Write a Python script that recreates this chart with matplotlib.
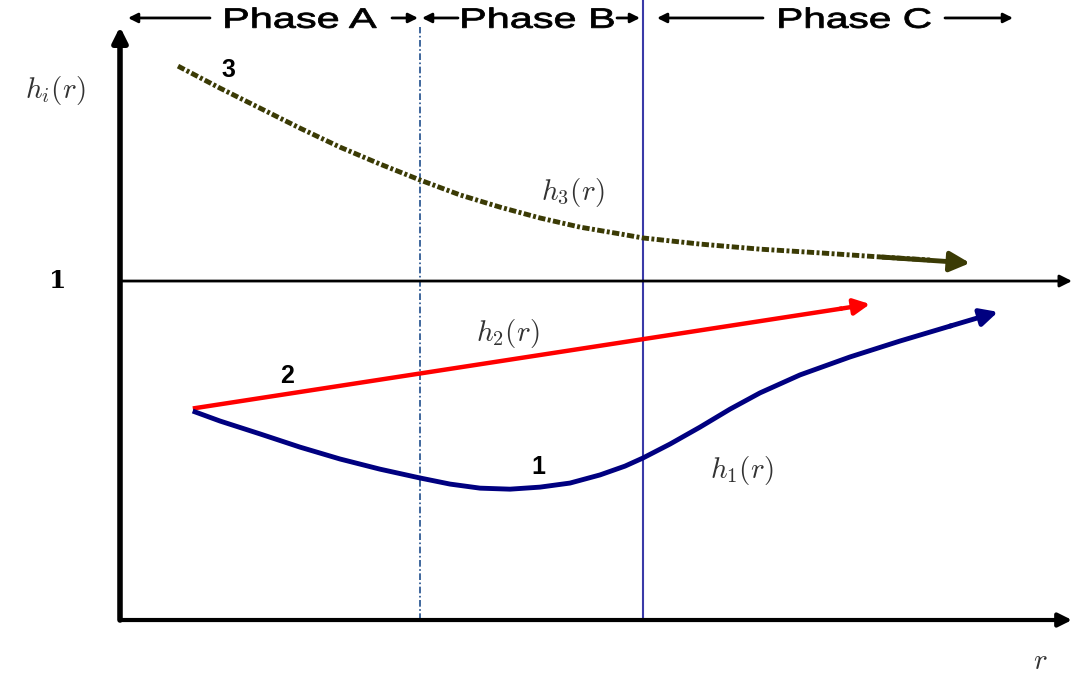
#phase diagram of h_i(r) with three curves and phase A/B/C bands
import matplotlib.pyplot as plt
from matplotlib.textpath import TextPath
from matplotlib.patches import PathPatch
from matplotlib.font_manager import FontProperties
from matplotlib.transforms import Affine2D

plt.rcParams['mathtext.fontset'] = 'cm'

# r positions of the phase boundaries
r_ab = 3.0
r_bc = 5.23

# phase titles and their centre positions along r
phases = ['Phase A', 'Phase B', 'Phase C']
phase_r = [1.81, 4.18, 7.35]

# curve 3 (dotted olive, decreasing towards 1)
r3 = [0.58, 1.0, 1.4, 1.8, 2.2, 2.6, 3.0, 3.4, 3.8, 4.2, 4.6, 5.0, 5.23,
      5.8, 6.4, 7.0, 7.6, 8.1, 8.5]
h3 = [1.634, 1.569, 1.510, 1.451, 1.395, 1.345, 1.298, 1.254, 1.218, 1.186,
      1.159, 1.139, 1.127, 1.109, 1.094, 1.083, 1.071, 1.062, 1.053]

# curve 2 (red, straight)
r2 = [0.75, 7.5]
h2 = [0.625, 0.932]

# curve 1 (navy, dips in phase B)
r1 = [0.75, 1.0, 1.4, 1.8, 2.2, 2.6, 3.0, 3.3, 3.6, 3.9, 4.2, 4.5, 4.8,
      5.05, 5.23, 5.5, 5.8, 6.1, 6.4, 6.8, 7.3, 7.8, 8.3, 8.78]
h1 = [0.614, 0.587, 0.549, 0.510, 0.475, 0.445, 0.419, 0.401, 0.389, 0.386,
      0.392, 0.404, 0.428, 0.454, 0.478, 0.519, 0.569, 0.622, 0.670, 0.723,
      0.776, 0.823, 0.867, 0.909]

fig = plt.figure(figsize=(10.86, 6.79), dpi=100)
ax = fig.add_axes([0, 0, 1, 1])
ax.set_xlim(-1.2, 9.66)
ax.set_ylim(-0.174, 1.829)
ax.axis('off')

def arrow(x0, y0, x1, y1, color, lw, ms):
    ax.annotate('', xy=(x1, y1), xytext=(x0, y0),
                arrowprops=dict(arrowstyle='-|>', color=color, lw=lw,
                                mutation_scale=ms, shrinkA=0, shrinkB=0))

# wide (horizontally stretched) text, like the original drawing
def wide_text(r, h, s, width_px=151, size_px=28):
    tp = TextPath((0, 0), s, size=size_px,
                  prop=FontProperties(family='Liberation Sans', weight='normal'))
    bb = tp.get_extents()
    sx = width_px / bb.width
    cx, cy = ax.transData.transform((r, h))
    tr = Affine2D().translate(-(bb.x0 + bb.width / 2), 0).scale(sx, 1).translate(cx, cy)
    ax.add_patch(PathPatch(tp, transform=tr, facecolor='black',
                           edgecolor='black', lw=0.6, clip_on=False))

# axes
arrow(0, 0, 0, 1.75, 'black', 4, 22)
arrow(0, 0, 9.52, 0, 'black', 3, 20)
arrow(0, 1, 9.52, 1, 'black', 2, 18)

# phase boundaries
ax.plot([r_ab, r_ab], [0, 1.75], color='#1f4e8c', lw=1.2, ls=(0, (4, 1.5, 1, 1.5)))
ax.plot([r_bc, r_bc], [0, 1.829], color='#3a3aa8', lw=1.5)

# curves
ax.plot(r3[:-1], h3[:-1], color='#3b3b05', lw=3.5, ls=(0, (1.5, 0.5, 0.6, 0.5)))
arrow(r3[-3], h3[-3], r3[-1], h3[-1], '#3b3b05', 3.5, 30)
ax.plot([r2[0], 7.2], [h2[0], 0.918], color='#ff0000', lw=3.2)
arrow(7.2, 0.918, r2[-1], h2[-1], '#ff0000', 3.2, 24)
ax.plot(r1[:-1], h1[:-1], color='#000080', lw=3.5)
arrow(r1[-2], h1[-2], r1[-1], h1[-1], '#000080', 3.5, 26)

# phase labels at top
ytop = 1.776
ybase = 1.747
for name, rc in zip(phases, phase_r):
    wide_text(rc, ybase, name)
arrow(0.9, ytop, 0.08, ytop, 'black', 2, 14)
arrow(2.72, ytop, 2.98, ytop, 'black', 2, 14)
arrow(3.38, ytop, 3.02, ytop, 'black', 2, 14)
arrow(4.97, ytop, 5.2, ytop, 'black', 2, 14)
arrow(6.43, ytop, 5.37, ytop, 'black', 2, 14)
arrow(8.25, ytop, 8.93, ytop, 'black', 2, 14)

# curve labels
nf = dict(fontsize=18, fontweight='bold', family='Liberation Sans',
          ha='center', va='center')
ax.text(1.08, 1.622, '3', **nf)
ax.text(1.67, 0.72, '2', **nf)
ax.text(4.18, 0.452, '1', **nf)
ax.text(4.53, 1.262, r'$h_3(r)$', fontsize=21, ha='center', va='center', color='#333333')
ax.text(3.88, 0.845, r'$h_2(r)$', fontsize=21, ha='center', va='center', color='#333333')
ax.text(6.22, 0.442, r'$h_1(r)$', fontsize=21, ha='center', va='center', color='#333333')

# axis labels
ax.text(-0.65, 1.563, r'$h_i(r)$', fontsize=21, ha='center', va='center', color='#333333')
ax.text(-0.62, 1.0, '1', fontsize=18, fontweight='bold', family='DejaVu Serif',
        ha='center', va='center')
ax.text(9.2, -0.12, r'$r$', fontsize=21, ha='center', va='center', color='#333333')

plt.savefig('out.png', dpi=100)
